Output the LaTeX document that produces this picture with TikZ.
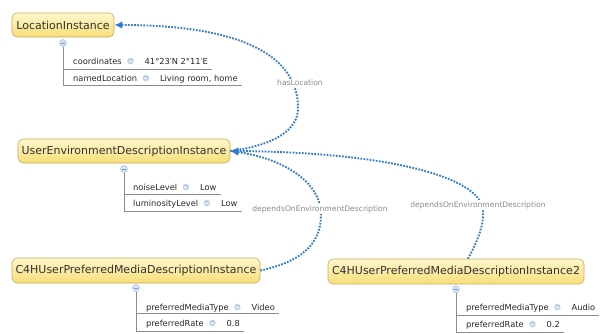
\documentclass[tikz,border=0pt]{standalone}
\usepackage{fontspec}
\setmainfont{DejaVu Sans}
\usetikzlibrary{arrows.meta,calc}
\definecolor{boxborder}{HTML}{C9A95C}
\definecolor{boxtop}{HTML}{FFF7CC}
\definecolor{boxbot}{HTML}{F8DE78}
\definecolor{relblue}{HTML}{2E7BD0}
\definecolor{lblgray}{HTML}{8A8A8A}
\definecolor{treegray}{HTML}{8C8C8C}
\definecolor{dotfill}{HTML}{BCD0EE}
\definecolor{minfill}{HTML}{D6E2F5}
\definecolor{minborder}{HTML}{A8BEE2}
\newcommand\attrrow[7]{%
  \node[attr] (#1n) at (#2,#3) {#4};
  \node[dotc] (#1c) at ([xshift=8.5pt,yshift=3pt]#1n.base east) {};
  \node[attr] (#1v) at ([xshift=22.5pt]#1n.base east) {#5};
  \coordinate (#1s) at (#7,#6);
  \draw[tree] (#1s) -- ([xshift=4pt]#1v.east |- #1s);
}
\begin{document}
\begin{tikzpicture}[x=1pt,y=-1pt,
  inst/.style={draw=boxborder, line width=0.6pt, rounded corners=5pt,
    top color=boxtop, bottom color=boxbot, text=black!80,
    font=\fontsize{11}{13}\selectfont, inner sep=0pt, minimum height=24pt},
  attr/.style={anchor=base west, inner sep=0pt, text=black!85,
    font=\fontsize{8.3}{10}\selectfont},
  dotc/.style={circle, fill=dotfill, inner sep=0pt, minimum size=6.5pt,
    path picture={\draw[white,line width=0.8pt]
      ([xshift=-1.6pt]path picture bounding box.center) --
      ([xshift=1.6pt]path picture bounding box.center);}},
  minc/.style={circle, draw=minborder, line width=0.5pt, fill=minfill,
    inner sep=0pt, minimum size=7pt,
    path picture={\draw[minborder!80!black,line width=0.6pt]
      ([xshift=-1.8pt]path picture bounding box.center) --
      ([xshift=1.8pt]path picture bounding box.center);}},
  tree/.style={draw=treegray, line width=0.6pt},
  rel/.style={draw=relblue, line width=1.9pt, dash pattern=on 1.7pt off 1.4pt,
    -{Latex[length=8pt,width=7.5pt]}},
  rlabel/.style={fill=white, inner sep=1pt, text=lblgray,
    font=\fontsize{7.6}{9}\selectfont}]
\useasboundingbox (0,0) rectangle (602,333);

% instance boxes
\node[inst, minimum width=102pt] (loc) at (63,25) {LocationInstance};
\node[inst, minimum width=212pt] (uedi) at (124,151) {UserEnvironmentDescriptionInstance};
\node[inst, minimum width=248pt, minimum height=25pt] (pm1) at (136,270.5) {C4HUserPreferredMediaDescriptionInstance};
\node[inst, minimum width=256pt, minimum height=25pt] (pm2) at (456,271.5) {C4HUserPreferredMediaDescriptionInstance2};

% relations
\draw[rel] (uedi.east) .. controls (275,145) and (298,130) .. (298,108)
  .. controls (298,55) and (240,25) .. (loc.east);
\draw[rel] (pm1.east) .. controls (300,262) and (321,245) .. (321,215)
  .. controls (321,180) and (280,158) .. (uedi.east);
\draw[rel] ([xshift=12pt]pm2.north) .. controls (478,240) and (484,225) .. (483,210)
  .. controls (480,175) and (380,152) .. (uedi.east);

\node[rlabel] (lhas) at (300,83) {hasLocation};
\node[rlabel] (ldep1) at (320,209) {dependsOnEnvironmentDescription};
\node[rlabel] (ldep2) at (478,205) {dependsOnEnvironmentDescription};

% LocationInstance attributes
\node[minc] (locm) at (63,43) {};
\draw[tree] (locm.south) -- (63,85);
\attrrow{la}{73}{64}{coordinates}{41°23′N 2°11′E}{69}{63}
\attrrow{lb}{73}{81}{namedLocation}{Living room, home}{85}{63}

% UserEnvironmentDescriptionInstance attributes
\node[minc] (uedim) at (124,169) {};
\draw[tree] (uedim.south) -- (124,211);
\attrrow{ua}{133}{190}{noiseLevel}{Low}{194}{124}
\attrrow{ub}{133}{206}{luminosityLevel}{Low}{211}{124}

% C4HUserPreferredMediaDescriptionInstance attributes
\node[minc] (pm1m) at (136,288) {};
\draw[tree] (pm1m.south) -- (136,331);
\attrrow{pa}{146}{310}{preferredMediaType}{Video}{313}{136}
\attrrow{pb}{146}{326}{preferredRate}{0.8}{331}{136}

% C4HUserPreferredMediaDescriptionInstance2 attributes
\node[minc] (pm2m) at (456,289) {};
\draw[tree] (pm2m.south) -- (456,332);
\attrrow{qa}{466}{310}{preferredMediaType}{Audio}{315}{456}
\attrrow{qb}{466}{327}{preferredRate}{0.2}{332}{456}
\end{tikzpicture}
\end{document}
